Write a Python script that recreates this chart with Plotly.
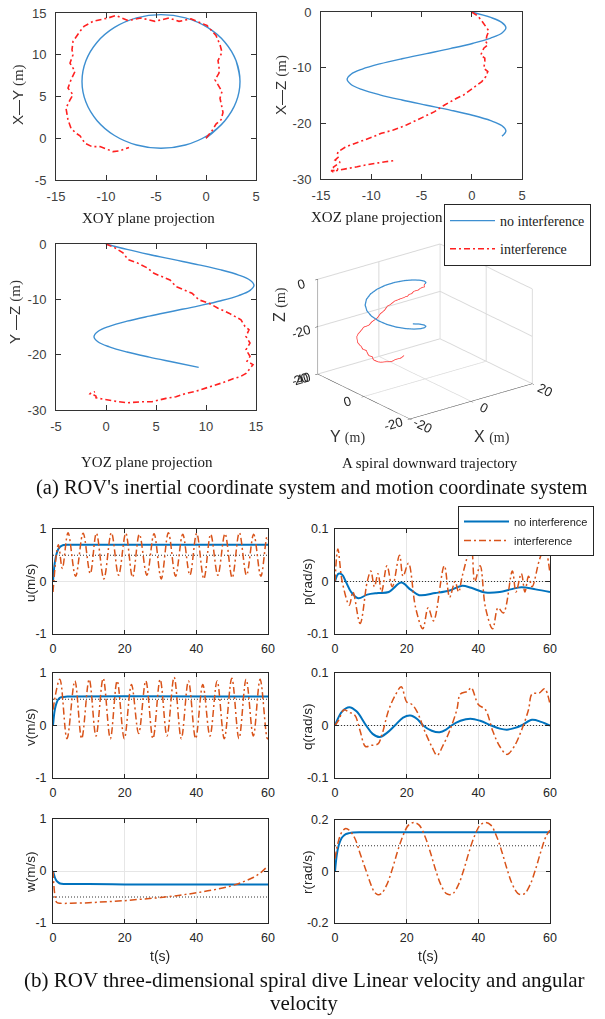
import plotly.graph_objects as go

W, H = 605, 1019
def px(x): return x / W
def py(y): return 1 - y / H

SANS = "Liberation Sans, Arial, sans-serif"
SERIF = "Liberation Serif, Times New Roman, serif"

# ---------------- data: 3-D trajectories (m) ----------------
# no interference: spiral
spiral_x = [0.0, 1.89, 3.01, 3.4, 3.01, 1.89, 0.15, -2.06, -4.5, -6.94, -9.15, -10.89, -12.01,
            -12.4, -12.01, -10.89, -9.15, -6.94, -4.5, -2.06, 0.15, 1.89, 3.01, 3.4, 3.01]
spiral_y = [0.0, 2.10, 4.33, 6.8, 9.27, 11.5, 13.27, 14.41, 14.8, 14.41, 13.27, 11.5, 9.27,
            6.8, 4.33, 2.10, 0.33, -0.81, -1.2, -0.81, 0.33, 2.10, 4.33, 6.8, 9.27]
spiral_z = [0.0, -0.98, -1.90, -2.83, -3.76, -4.68, -5.61, -6.54, -7.47, -8.39, -9.32, -10.25, -11.17,
            -12.10, -13.03, -13.95, -14.88, -15.81, -16.74, -17.66, -18.59, -19.52, -20.44, -21.37, -22.30]
# interference
int_x = [0, 0.6, 1.0, 1.5, 1.7, 1.5, 1.4, 1.6, 1.2, 0.9, 1.3, 1.3, 1.2, 1.6, 1.4, 1.0, 0.1, -0.8, -1.5, -2.7,
         -3.7, -5.1, -6.5, -7.8, -9.0, -9.8, -10.6, -11.3, -12.2, -12.6, -13.3, -13.4, -13.3, -13.6, -13.1,
         -13.5, -13.8, -13.3, -13.6, -14.0, -13.8, -13.5, -13.0, -12.6, -12.1, -11.4, -10.6, -10.1, -9.3, -8.6, -7.7]
int_y = [0, 0.9, 1.7, 2.2, 3.1, 4.1, 4.8, 5.6, 6.4, 7.0, 7.8, 8.6, 9.3, 10.3, 11.2, 12.3, 13.5, 13.9, 14.3, 14.0,
         14.4, 14.0, 14.4, 14.1, 14.7, 14.4, 14.2, 14.0, 13.4, 12.8, 11.6, 10.6, 10.0, 9.0, 8.0,
         7.0, 6.0, 5.2, 4.6, 3.6, 2.2, 1.2, 0.6, 0.3, -0.6, -1.0, -1.0, -1.2, -1.6, -1.5, -1.1]
int_z = [0, -0.7, -1.6, -2.8, -3.4, -4.3, -5.3, -5.9, -6.5, -7.7, -8.3, -8.9, -10.1, -10.7, -11.6, -12.5, -13.7,
         -14.9, -15.5, -16.7, -17.9, -19.1, -20.3, -21.2, -21.8, -22.4, -23.0, -23.4, -24.0, -24.3, -25.1, -25.7,
         -26.1, -26.6, -27.0, -27.6, -27.9, -28.2, -28.5, -28.5, -28.7, -28.5, -28.3, -28.2, -28.0, -27.8, -27.5,
         -27.3, -27.1, -26.9, -26.7]

# ---------------- data: velocities vs time ----------------
u_no_t = [0, 0.5, 1, 1.5, 2, 2.5, 3, 4, 5, 60]
u_no = [0, 0.36, 0.53, 0.62, 0.66, 0.685, 0.695, 0.7, 0.7, 0.7]
u_int_t = [0, 1.5, 2.6, 4.2, 6.3, 8.4, 10.4, 12.1, 14.2, 16.3, 18.3, 20.3, 22.2, 24.1, 26.2, 28.2, 30.2,
           32.2, 34.2, 36.2, 38.2, 40.1, 42.1, 44.0, 46.0, 48.0, 50.0, 52.0, 54.0, 56.0, 58.0, 59.7, 60]
u_int = [-0.2, 0.7, 0.25, 0.93, 0.1, 0.92, 0.15, 0.92, 0.05, 0.93, 0.12, 0.92, 0.08, 0.9, 0.12, 0.91, 0.05,
         0.93, 0.1, 0.9, 0.12, 0.92, 0.05, 0.9, 0.12, 0.91, 0.07, 0.93, 0.12, 0.9, 0.1, 0.85, 0.8]
v_no_t = [0, 0.5, 1, 1.5, 2, 3, 4, 60]
v_no = [0, 0.3, 0.43, 0.5, 0.53, 0.545, 0.55, 0.55]
v_int_t = [0, 1.9, 3.9, 6.1, 8.0, 10.1, 12.0, 14.0, 16.0, 17.9, 19.9, 21.9, 23.9, 25.9, 27.9, 29.9, 31.8,
           33.8, 35.8, 37.8, 39.8, 41.8, 43.8, 45.8, 47.8, 49.9, 51.9, 53.9, 55.9, 57.8, 59.8, 60]
v_int = [0.3, 0.88, -0.25, 0.85, -0.25, 0.88, -0.2, 0.9, -0.25, 0.85, -0.25, 0.78, -0.15, 0.85, -0.25, 0.88,
         -0.2, 0.92, -0.25, 0.85, -0.25, 0.78, -0.2, 0.85, -0.25, 0.9, -0.25, 0.88, -0.2, 0.88, -0.25, -0.24]
w_no_t = [0, 0.5, 1, 1.5, 2, 3, 5, 10, 20, 30, 40, 50, 60]
w_no = [0, -0.12, -0.19, -0.22, -0.24, -0.25, -0.25, -0.25, -0.26, -0.26, -0.26, -0.26, -0.26]
w_int_t = [0, 0.5, 1, 2, 5, 10, 15, 20, 25, 30, 35, 40, 45, 50, 53, 56, 58, 60]
w_int = [0, -0.45, -0.6, -0.62, -0.62, -0.61, -0.59, -0.57, -0.54, -0.51, -0.47, -0.42, -0.36, -0.28,
         -0.21, -0.12, -0.03, 0.1]
p_no_t = [0, 1, 2, 3, 4.5, 6.5, 9, 12, 15, 18.5, 21, 23.5, 28, 32, 35.5, 38, 42, 46, 49, 52, 56, 60]
p_no = [0, 0.015, 0.013, 0, -0.02, -0.032, -0.025, -0.022, -0.02, -0.002, -0.015, -0.026, -0.022, -0.017,
        -0.008, -0.012, -0.021, -0.02, -0.015, -0.011, -0.015, -0.02]
p_int_t = [0, 0.8, 2, 4, 5, 7, 9, 10, 11, 12, 13, 14.5, 16, 18, 19, 20.5, 22.5, 24.5, 26, 27.5, 30.5, 32,
           33.5, 34.5, 35.5, 38, 39, 40.5, 42, 44, 45.5, 47, 49.5, 50.5, 52, 53, 54, 55, 57, 58.5, 60]
p_int = [0, 0.062, 0, -0.045, -0.02, -0.08, 0, 0.02, -0.01, 0.015, -0.02, 0.03, -0.01, 0.05, 0.01, 0.035,
         -0.05, -0.09, -0.05, -0.075, 0.03, -0.03, 0, -0.02, 0.01, 0.065, 0, 0.03, -0.05, -0.09, -0.05, -0.06,
         0.02, -0.02, 0.015, -0.02, 0.01, -0.01, 0.04, 0.065, 0.015]
q_no_t = [0, 2, 4, 6, 8.7, 10.5, 12.5, 14.5, 16.7, 19, 21, 23, 24.6, 27, 29.2, 31, 32.5, 35, 37.8, 40.5,
          43.6, 46, 48, 50, 52, 55, 57.5, 60]
q_no = [0, 0.027, 0.035, 0.027, 0, -0.016, -0.022, -0.014, 0, 0.015, 0.019, 0.012, 0, -0.01, -0.013, -0.008,
        0, 0.009, 0.013, 0.009, 0, -0.006, -0.008, -0.005, 0, 0.011, 0.007, 0]
q_int_t = [0, 1, 2.5, 4, 5.5, 7, 8.5, 10, 12, 13, 15, 17, 18.5, 20, 21.5, 23, 25, 27, 28.5, 30, 32, 34, 35,
           37, 38, 40, 42, 44, 46, 48, 50, 52, 54, 55, 57, 58.5, 60]
q_int = [0, 0.01, 0.03, 0.025, 0.02, -0.01, -0.04, -0.038, -0.035, -0.02, 0.03, 0.06, 0.074, 0.045, 0.04,
         0.025, -0.01, -0.04, -0.057, -0.04, -0.01, 0.03, 0.06, 0.065, 0.072, 0.04, 0.03, -0.01, -0.04, -0.055,
         -0.04, -0.01, 0.03, 0.06, 0.062, 0.07, 0.04]
r_no_t = [0, 0.5, 1, 1.5, 2, 3, 4, 5, 7, 60]
r_no = [0, 0.065, 0.1, 0.12, 0.133, 0.145, 0.149, 0.151, 0.152, 0.152]
r_int_t = [0, 1, 2, 3, 4, 5.5, 7, 8.5, 10, 11, 12, 13, 14.5, 16, 17.5, 19, 20.5, 22, 23.5, 25, 26.5, 28,
           29.5, 31, 32, 33, 34.5, 36, 37.5, 39, 40.5, 42, 43.5, 45, 46.5, 48, 49.5, 51, 52, 53, 54.5, 56,
           57.5, 59, 60]
r_int = [0.05, 0.12, 0.155, 0.167, 0.16, 0.13, 0.07, 0.01, -0.05, -0.08, -0.09, -0.085, -0.05, 0.01, 0.08,
         0.14, 0.18, 0.19, 0.18, 0.14, 0.08, 0.01, -0.05, -0.085, -0.09, -0.085, -0.05, 0.01, 0.08, 0.14,
         0.18, 0.19, 0.18, 0.14, 0.08, 0.01, -0.05, -0.085, -0.09, -0.085, -0.05, 0.01, 0.08, 0.14, 0.16]
# dotted reference (desired) values
ref_u, ref_v, ref_w = 0.5, 0.5, -0.5
ref_p, ref_q, ref_r = 0.0, 0.0, 0.1
t_span = [0, 60]

# ticks
tk_15_5 = [-15, -10, -5, 0, 5]
tk_m5_15 = [-5, 0, 5, 10, 15]
tk_m30_0 = [-30, -20, -10, 0]
tk_t = [0, 20, 40, 60]
tk_lin = [-1, 0, 1]
tk_ang = [-0.1, 0, 0.1]
tk_r = [-0.2, 0, 0.2]
tk_3d = [-20, 0, 20]
tk_3dz = [-40, -20, 0]

def lab(v):
    return [str(a) for a in v]

BLUE_T, RED_T = "#3d8fd1", "#ff2020"
BLUE_B, ORANGE_B = "#0072BD", "#D95319"
DASHDOT = "6px,3px,2px,3px"

fig = go.Figure()

def add2d(x, y, xa, ya, color, dash=None, width=1.5, name=None, legend=None, shape="linear"):
    fig.add_trace(go.Scatter(x=x, y=y, xaxis=xa, yaxis=ya, mode="lines",
                             line=dict(color=color, width=width, dash=dash, shape=shape),
                             name=name, showlegend=name is not None, legend=legend,
                             legendgroup=name, hoverinfo="skip"))

# top 2-D projections
add2d(spiral_x, spiral_y, "x", "y", BLUE_T, width=1.4, name="no interference", legend="legend", shape="spline")
add2d(int_x, int_y, "x", "y", RED_T, dash=DASHDOT, width=1.6, name="interference", legend="legend")
add2d(spiral_x, spiral_z, "x2", "y2", BLUE_T, width=1.4, shape="spline")
add2d(int_x, int_z, "x2", "y2", RED_T, dash=DASHDOT, width=1.6)
add2d(spiral_y, spiral_z, "x3", "y3", BLUE_T, width=1.4, shape="spline")
add2d(int_y, int_z, "x3", "y3", RED_T, dash=DASHDOT, width=1.6)

# 3-D
fig.add_trace(go.Scatter3d(x=spiral_x, y=spiral_y, z=spiral_z, mode="lines",
                           line=dict(color=BLUE_T, width=2.5), showlegend=False, hoverinfo="skip"))
fig.add_trace(go.Scatter3d(x=int_x, y=int_y, z=int_z, mode="lines",
                           line=dict(color="#ff3030", width=1.5), showlegend=False, hoverinfo="skip"))

# bottom panels
panels = [
    ("x4", "y4", u_no_t, u_no, u_int_t, u_int, ref_u),
    ("x5", "y5", p_no_t, p_no, p_int_t, p_int, ref_p),
    ("x6", "y6", v_no_t, v_no, v_int_t, v_int, ref_v),
    ("x7", "y7", q_no_t, q_no, q_int_t, q_int, ref_q),
    ("x8", "y8", w_no_t, w_no, w_int_t, w_int, ref_w),
    ("x9", "y9", r_no_t, r_no, r_int_t, r_int, ref_r),
]
for i, (xa, ya, tn, vn, ti, vi, ref) in enumerate(panels):
    add2d(t_span, [ref, ref], xa, ya, "#333333", dash="1px,2px", width=1)
    first = i == 1
    add2d(tn, vn, xa, ya, BLUE_B, width=2, shape="spline",
          name="no interference" if first else None, legend="legend2" if first else None)
    add2d(ti, vi, xa, ya, ORANGE_B, dash="7px,3px,2px,3px", width=1.5, shape="spline",
          name="interference" if first else None, legend="legend2" if first else None)

# ---------------- axes ----------------
def ax_top(dom, rng, tv, anchor, pad):
    return dict(domain=dom, range=rng, tickvals=tv, ticktext=lab(tv), anchor=anchor,
                showgrid=False, zeroline=False, showline=True, linecolor="#333333", linewidth=1,
                mirror="allticks", ticks="inside", ticklen=5, tickcolor="#333333",
                tickfont=dict(family=SANS, size=13, color="#404040"), ticklabelstandoff=pad)

def ax_bot(dom, rng, tv, anchor, pad):
    return dict(domain=dom, range=rng, tickvals=tv, ticktext=lab(tv), anchor=anchor,
                showgrid=True, gridcolor="#e6e6e6", gridwidth=1, zeroline=False,
                showline=True, linecolor="#262626", linewidth=1, mirror="allticks",
                ticks="inside", ticklen=4, tickcolor="#262626",
                tickfont=dict(family=SANS, size=12.5, color="#262626"), ticklabelstandoff=pad)

XL = [px(56), px(256)]
XR = [px(321), px(522)]
BXL = [px(53), px(268)]
BXR = [px(335), px(550)]

layout = dict(
    width=W, height=H, margin=dict(l=0, r=0, t=0, b=0, autoexpand=False),
    paper_bgcolor="white", plot_bgcolor="white", showlegend=True,
    xaxis=ax_top(XL, [-15, 5], tk_15_5, "y", 4),
    yaxis=ax_top([py(180), py(13)], [-5, 15], tk_m5_15, "x", 6),
    xaxis2=ax_top(XR, [-15, 5], tk_15_5, "y2", 4),
    yaxis2=ax_top([py(179), py(12)], [-30, 0], tk_m30_0, "x2", 6),
    xaxis3=ax_top(XL, [-5, 15], tk_m5_15, "y3", 4),
    yaxis3=ax_top([py(410), py(244)], [-30, 0], tk_m30_0, "x3", 6),
    xaxis4=ax_bot(BXL, [0, 60], tk_t, "y4", 3),
    yaxis4=ax_bot([py(634), py(529)], [-1, 1], tk_lin, "x4", 3),
    xaxis5=ax_bot(BXR, [0, 60], tk_t, "y5", 3),
    yaxis5=ax_bot([py(634), py(529)], [-0.1, 0.1], tk_ang, "x5", 3),
    xaxis6=ax_bot(BXL, [0, 60], tk_t, "y6", 3),
    yaxis6=ax_bot([py(778), py(673)], [-1, 1], tk_lin, "x6", 3),
    xaxis7=ax_bot(BXR, [0, 60], tk_t, "y7", 3),
    yaxis7=ax_bot([py(778), py(673)], [-0.1, 0.1], tk_ang, "x7", 3),
    xaxis8=ax_bot(BXL, [0, 60], tk_t, "y8", 3),
    yaxis8=ax_bot([py(923), py(819)], [-1, 1], tk_lin, "x8", 3),
    xaxis9=ax_bot(BXR, [0, 60], tk_t, "y9", 3),
    yaxis9=ax_bot([py(923), py(820)], [-0.2, 0.2], tk_r, "x9", 3),
    legend=dict(x=px(444), y=py(204), xanchor="left", yanchor="top", bgcolor="white",
                bordercolor="#262626", borderwidth=1, font=dict(family=SERIF, size=14, color="#1a1a1a"),
                tracegroupgap=7, itemwidth=45, entrywidth=145),
    legend2=dict(x=px(458), y=py(506), xanchor="left", yanchor="top", bgcolor="white",
                 bordercolor="#262626", borderwidth=1, font=dict(family=SANS, size=11, color="#1a1a1a"),
                 tracegroupgap=0, itemwidth=45, entrywidth=95),
)

ax3 = dict(showbackground=False, gridcolor="#d9d9d9", showline=True, linecolor="#333333",
           zeroline=False, showspikes=False, ticks="outside", ticklen=3, tickcolor="#333333",
           tickfont=dict(family=SANS, size=12.5, color="#262626"))
layout["scene"] = dict(
    domain=dict(x=[px(285), px(565)], y=[py(438), py(225)]),
    xaxis=dict(ax3, range=[-20, 20], tickvals=tk_3d, ticktext=lab(tk_3d), title=dict(text="")),
    yaxis=dict(ax3, range=[-20, 20], tickvals=tk_3d, ticktext=lab(tk_3d), title=dict(text="")),
    zaxis=dict(ax3, range=[-40, 0], tickvals=tk_3dz, ticktext=lab(tk_3dz), title=dict(text="")),
    aspectmode="manual", aspectratio=dict(x=1.45, y=1.42, z=0.96),
    camera=dict(eye=dict(x=-1.1, y=-1.43, z=0.73), up=dict(x=0, y=0, z=1),
                center=dict(x=0, y=0, z=0), projection=dict(type="orthographic")),
    bgcolor="white",
)

fig.update_layout(**layout)

def ann(text, x, y, size, family, angle=0, color="#262626"):
    fig.add_annotation(text=text, x=px(x), y=py(y), xref="paper", yref="paper", showarrow=False,
                       textangle=angle, font=dict(family=family, size=size, color=color),
                       xanchor="center", yanchor="middle")

M = '<span style="font-family:Liberation Serif">(m)</span>'
M14 = '<span style="font-family:Liberation Serif;font-size:14px">(m)</span>'
ann("X—Y " + M, 18, 95, 15, SANS, -90, "#333333")
ann("X—Z " + M, 281, 85, 15, SANS, -90, "#333333")
ann("Y —Z " + M, 15, 312, 15, SANS, -90, "#333333")
ann("Z " + M14, 280, 305, 16, SANS, -90, "#333333")
ann("Y " + M14, 347, 437, 16, SANS, 0, "#333333")
ann("X " + M14, 492, 437, 16, SANS, 0, "#333333")
ann("XOY plane projection", 148, 218, 15, SERIF, color="#1a1a1a")
ann("XOZ plane projection", 377, 217, 15, SERIF, color="#1a1a1a")
ann("YOZ plane projection", 147, 462, 15, SERIF, color="#1a1a1a")
ann("A spiral downward trajectory", 430, 463, 15, SERIF, color="#1a1a1a")
ann("(a) ROV's inertial coordinate system and motion coordinate system", 311, 488, 20.5, SERIF, color="#111111")
ann("u(m/s)", 30, 583, 13.5, SANS, -90)
ann("v(m/s)", 30, 727, 13.5, SANS, -90)
ann("w(m/s)", 30, 872, 13.5, SANS, -90)
ann("p(rad/s)", 307, 582, 13.5, SANS, -90)
ann("q(rad/s)", 307, 727, 13.5, SANS, -90)
ann("r(rad/s)", 307, 872, 13.5, SANS, -90)
ann("t(s)", 160, 956, 14, SANS)
ann("t(s)", 428, 956, 14, SANS)
ann("(b) ROV three-dimensional spiral dive Linear velocity and angular", 304, 980, 21, SERIF, color="#111111")
ann("velocity", 304, 1003, 21, SERIF, color="#111111")

fig.write_html("out.html", config={"displayModeBar": False},
               post_script="document.body.style.margin='0';document.body.style.overflow='hidden';")
